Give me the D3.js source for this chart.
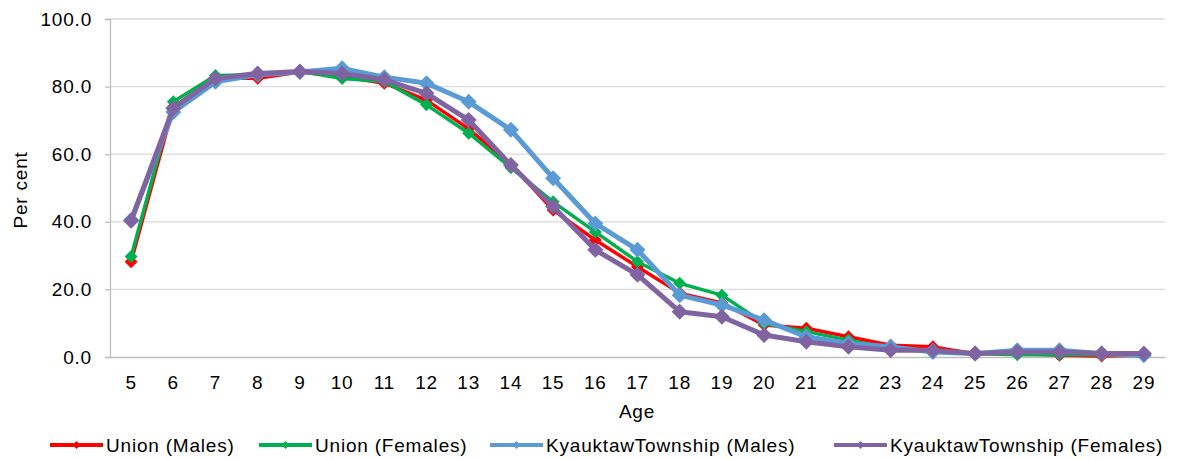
<!DOCTYPE html>
<html><head><meta charset="utf-8">
<script src="https://cdn.jsdelivr.net/npm/d3@7"></script>
<style>
body{margin:0;background:#fff;}
text{font-family:"Liberation Sans",Arial,sans-serif;fill:#000;}
</style></head>
<body><svg id="c" width="1182" height="459"></svg>
<script>
const ages = [5,6,7,8,9,10,11,12,13,14,15,16,17,18,19,20,21,22,23,24,25,26,27,28,29];
const unionMales =   [28.2,74.0,82.5,82.5,84.3,83.0,81.0,76.0,67.5,57.0,43.5,34.6,26.7,18.9,16.0,9.5,8.5,6.0,3.5,3.0,1.0,1.0,0.5,0.3,0.5];
const unionFemales = [29.7,75.5,83.3,83.5,84.5,82.4,81.5,74.6,66.2,56.0,45.9,37.0,28.2,21.8,18.3,9.9,7.5,5.0,2.5,2.0,1.0,0.7,0.7,0.7,0.5];
const kyMales =      [40.5,72.5,81.4,83.5,84.3,85.4,82.8,81.0,75.5,67.2,52.9,39.5,31.7,18.3,15.4,10.9,6.0,4.0,3.0,1.5,1.0,2.0,2.0,1.0,0.5];
const kyFemales =    [40.3,73.6,82.4,83.9,84.5,83.9,82.0,78.0,70.1,56.8,44.5,31.7,24.3,13.4,11.9,6.5,4.5,3.0,2.0,2.0,1.0,1.5,1.5,1.0,1.0];
const seriesNames = ["Union (Males)","Union (Females)","KyauktawTownship (Males)","KyauktawTownship (Females)"];
const seriesColors = ["#ff0000","#00b050","#5b9bd5","#8064a2"];
const yTicks = [0,20,40,60,80,100];

const series = [unionMales,unionFemales,kyMales,kyFemales];
const widths = [3.5,3.5,5,5];
const mr = [6.5,6.5,8,8];

const svg = d3.select("#c");
const L=110, R=1165, T=19, B=357;
const x = d3.scaleBand().domain(ages).range([L,R]);
const y = d3.scaleLinear().domain([0,100]).range([B,T]);
const FS = "19px", LS = "0.8px";

const dia = r => `M0,${-r}L${r},0L0,${r}L${-r},0Z`;

// gridlines
svg.append("g").selectAll("line").data(yTicks.filter(d=>d>0)).join("line")
  .attr("x1",L).attr("x2",R).attr("y1",d=>y(d)).attr("y2",d=>y(d))
  .attr("stroke","#d9d9d9").attr("stroke-width",1.3);

// y axis
const ya = svg.append("g").attr("transform",`translate(${L},0)`)
  .call(d3.axisLeft(y).tickValues(yTicks).tickFormat(d3.format(".1f")).tickSize(5).tickPadding(13));
ya.select(".domain").attr("stroke","#bfbfbf").attr("stroke-width",1.3);
ya.selectAll(".tick line").attr("stroke","#bfbfbf").attr("stroke-width",1.3);
ya.selectAll("text").style("font-size",FS).attr("letter-spacing",LS).attr("font-family","Liberation Sans, Arial, sans-serif");

// x axis
const xa = svg.append("g").attr("transform",`translate(0,${B})`)
  .call(d3.axisBottom(x).tickSize(0).tickPadding(19));
xa.select(".domain").attr("stroke","#bfbfbf").attr("stroke-width",1.3);
xa.selectAll("text").style("font-size",FS).attr("letter-spacing",LS).attr("font-family","Liberation Sans, Arial, sans-serif");

// axis titles
svg.append("text").attr("x",637).attr("y",418).attr("text-anchor","middle").style("font-size",FS).attr("letter-spacing",LS).text("Age");
svg.append("text").attr("transform","translate(27,190) rotate(-90)").attr("text-anchor","middle").style("font-size",FS).attr("letter-spacing",LS).text("Per cent");

const line = d3.line().x((d,i)=>x(ages[i])+x.bandwidth()/2).y(d=>y(d));

series.forEach((s,k)=>{
  const g = svg.append("g");
  g.append("path").datum(s).attr("d",line).attr("fill","none")
    .attr("stroke",seriesColors[k]).attr("stroke-width",widths[k]).attr("stroke-linejoin","round");
  g.selectAll("path.m").data(s).join("path").attr("class","m")
    .attr("transform",(d,i)=>`translate(${x(ages[i])+x.bandwidth()/2},${y(d)})`)
    .attr("d",dia(mr[k])).attr("fill",seriesColors[k]);
});

// legend
const legX = [50,259,490,834];
const lg = svg.append("g");
seriesNames.forEach((n,k)=>{
  const gx = legX[k], gy=445;
  lg.append("line").attr("x1",gx).attr("x2",gx+53).attr("y1",gy).attr("y2",gy)
    .attr("stroke",seriesColors[k]).attr("stroke-width",4);
  lg.append("path").attr("transform",`translate(${gx+26.5},${gy})`).attr("d",dia(4)).attr("fill",seriesColors[k]);
  lg.append("text").attr("x",gx+56).attr("y",gy+7).style("font-size",FS).attr("letter-spacing",LS).text(n);
});
</script></body></html>
